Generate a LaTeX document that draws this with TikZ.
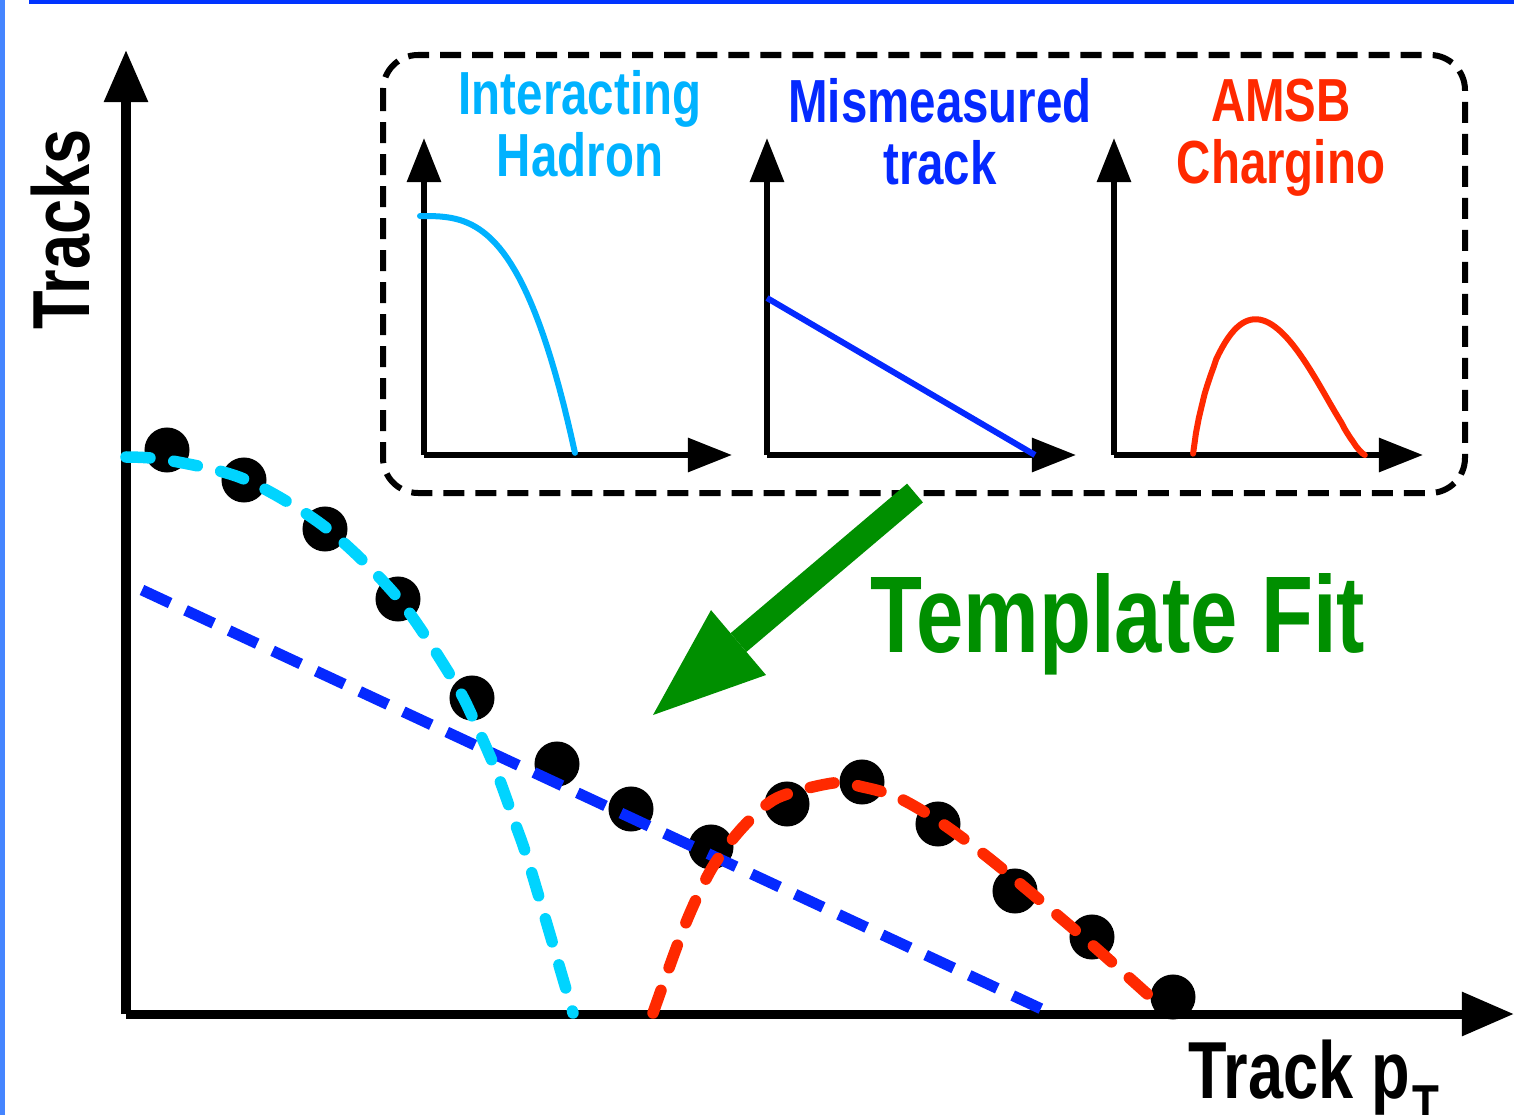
\documentclass[tikz,border=0pt]{standalone}
\usepackage{fontspec}
\setmainfont{Liberation Sans}[FakeStretch=0.78]
\usetikzlibrary{arrows.meta, positioning}
\definecolor{hadroncyan}{rgb}{0, 0.70, 1}
\definecolor{fitcyan}{rgb}{0, 0.83, 1}
\definecolor{mismblue}{rgb}{0.02, 0.16, 1}
\definecolor{amsbred}{rgb}{1, 0.16, 0}
\definecolor{fitgreen}{rgb}{0, 0.56, 0}
\definecolor{slideblue}{rgb}{0, 0.2, 1}
\definecolor{slideedge}{rgb}{0.27, 0.52, 1}

\begin{document}
\begin{tikzpicture}[x=0.01cm, y=-0.01cm,
    mainaxis/.style={line width=0.09cm, -{Triangle[length=0.52cm, width=0.42cm]}},
    smallaxis/.style={line width=0.06cm, -{Triangle[length=0.44cm, width=0.33cm]}},
    datapt/.style={circle, fill=black, inner sep=0pt, minimum size=0.45cm},
    templine/.style={line width=0.06cm, line cap=round},
    fitdash/.style={line width=0.115cm, line cap=round, dash pattern=on 0.24cm off 0.24cm},
    tlabel/.style={font=\bfseries\fontsize{17.3pt}{17.6pt}\selectfont, align=center, anchor=north, inner sep=0pt},
    axislabel/.style={font=\bfseries\fontsize{23pt}{23pt}\selectfont, inner sep=0pt}]
  \useasboundingbox (0,0) rectangle (1514,1115);
  % slide edges
  \fill[slideblue] (29,0) rectangle (1514,4);
  \fill[slideedge] (0,0) rectangle (5,1115);

  % main axes
  \coordinate (O) at (126,1014);
  \coordinate (Ytip) at (126,50);
  \coordinate (Xtip) at (1514,1014);
  \draw[mainaxis] (O) -- (Ytip);
  \draw[mainaxis] (O) -- (Xtip);
  \node[axislabel, rotate=90, anchor=base west] (ylab) at (90,330) {Tracks};
  \node[axislabel, anchor=base west] (xlab) at (1188,1098)
    {Track p\kern0.03cm\raisebox{-0.26cm}{\fontsize{16pt}{16pt}\selectfont T}};

  % templates
  \draw[dash pattern=on 0.21cm off 0.11cm, line width=0.06cm, rounded corners=0.35cm]
    (383,55) rectangle (1465,493);
  \foreach \n/\ox/\xt in {1/424/732, 2/767/1076, 3/1114/1423}{
    \coordinate (o\n) at (\ox,455);
    \coordinate (y\n) at (\ox,138);
    \coordinate (x\n) at (\xt,455);
    \draw[smallaxis] (o\n) -- (y\n);
    \draw[smallaxis] (o\n) -- (x\n);
  }
  \draw[templine, hadroncyan, domain=0:1, samples=40] plot ({420+155*\x}, {453-237*(1-\x^3)});
  \draw[templine, mismblue, line cap=butt] (767,298) -- (1035,455);
  \draw[templine, amsbred, domain=0.0005:0.9995, samples=60]
    plot ({1193+172*\x}, {455-574*(\x)^0.8*(1-\x)^1.4});
  \node[tlabel, text=hadroncyan] (hadron) at (580,70) {Interacting\\Hadron};
  \node[tlabel, text=mismblue] (mism) at (940,78) {Mismeasured\\track};
  \node[tlabel, text=amsbred] (amsb) at (1281,78) {AMSB\\Chargino};

  % fit arrow
  \coordinate (fitstart) at (915,493);
  \coordinate (fittip) at (653,715);
  \draw[fitgreen, line width=0.245cm, -{Triangle[length=1.12cm, width=0.85cm, line width=0pt]}]
    (fitstart) -- (fittip);
  \node[font=\bfseries\fontsize{31pt}{31pt}\selectfont, text=fitgreen, inner sep=0pt,
    anchor=base west] (fit) at (870,652) {Template Fit};

  % data
  \foreach \px/\py [count=\i] in {167/450, 244/480, 325/529, 398/599, 472/698, 557/764,
      631/809, 711/847, 787/804, 862/782, 938/824, 1015/891, 1092/937, 1173/997}
    \node[datapt] (P\i) at (\px,\py) {};
  \draw[mismblue, line width=0.11cm, dash pattern=on 0.31cm off 0.17cm] (142,590) -- (1048,1012);
  \draw[fitdash, fitcyan] plot[smooth] coordinates
    {(126,457) (167,460) (244,479) (325,527) (398,598) (455,683) (477,727) (497,773)
     (515,823) (530,867) (573,1013)};
  \draw[fitdash, amsbred] plot[smooth] coordinates
    {(653,1013) (685,925) (712,868) (743,827) (777,798) (833,783) (863,787) (897,797)
     (940,822) (995,863) (1090,943) (1165,1010)};
\end{tikzpicture}
\end{document}
